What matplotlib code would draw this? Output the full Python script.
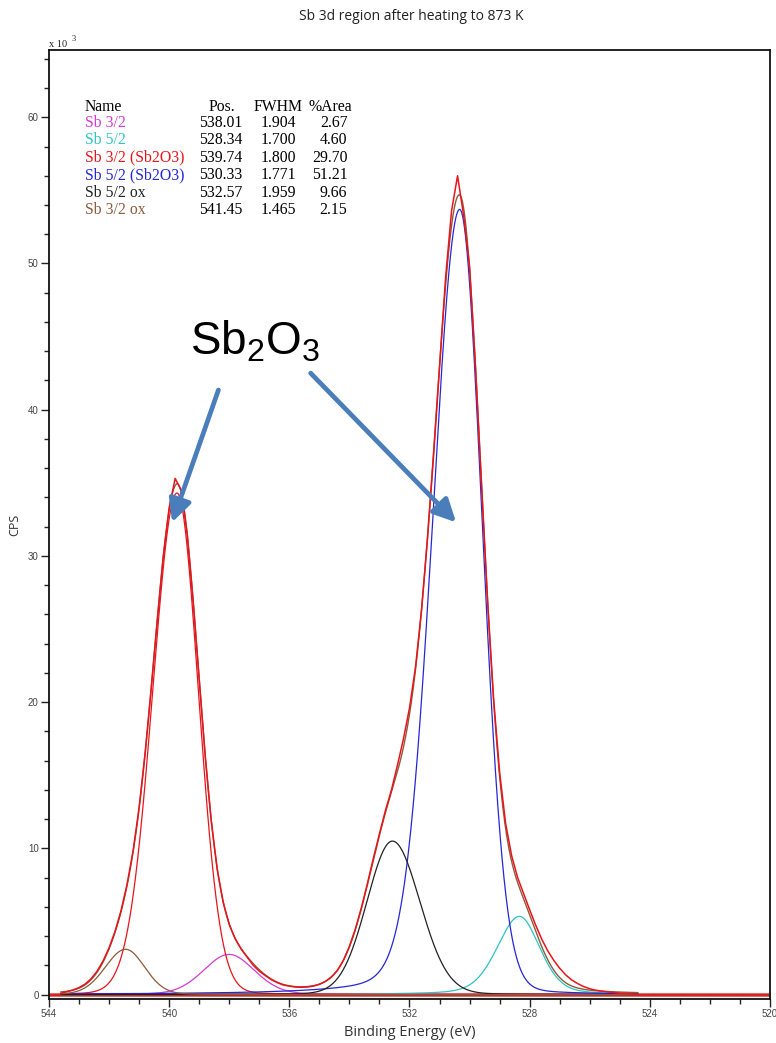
import numpy as np
import matplotlib.pyplot as plt
from matplotlib.ticker import MultipleLocator

plt.rcParams['mathtext.fontset'] = 'custom'
plt.rcParams['mathtext.rm'] = 'Liberation Sans'

W, H = 776, 1043

# fitted components (CasaXPS peak table)
names = ['Sb 3/2', 'Sb 5/2', 'Sb 3/2 (Sb2O3)', 'Sb 5/2 (Sb2O3)', 'Sb 5/2 ox', 'Sb 3/2 ox']
positions = [538.01, 528.34, 539.74, 530.33, 532.57, 541.45]
fwhm = [1.904, 1.700, 1.800, 1.771, 1.959, 1.465]
area_pct = [2.67, 4.60, 29.70, 51.21, 9.66, 2.15]
colors = ['#d23cd2', '#2cc4c4', '#e8141c', '#2626d6', '#222222', '#8c5a3c']

# peak heights (x 10^3 CPS) and asymmetric line shapes of the components
heights = [2.75, 5.35, 34.3, 53.7, 10.5, 3.1]
hw_high = [1.00, 0.88, 0.95, 1.06, 1.00, 0.80]   # half width, high-BE side
hw_low = [1.00, 0.80, 0.84, 0.88, 1.08, 0.75]    # half width, low-BE side
lor_high = [0.15, 0.30, 0.03, 0.14, 0.05, 0.10]  # Lorentzian fraction
lor_low = [0.15, 0.30, 0.03, 0.05, 0.05, 0.10]

# measured spectrum, 0.2 eV steps from 543.6 down to 524.4 eV (x 10^3 CPS)
be_data = np.round(np.arange(543.6, 524.3, -0.2), 1)
cps_data = [
    0.10, 0.20, 0.32, 0.48, 0.72, 1.08, 1.60, 2.30, 3.20, 4.33,
    5.76, 7.56, 9.84, 12.80, 16.52, 20.90, 25.55, 29.90, 33.30, 35.30,
    34.50, 31.50, 26.85, 21.50, 16.30, 11.90, 8.55, 6.30, 4.80, 3.80,
    3.10, 2.55, 2.00, 1.60, 1.30, 1.02, 0.82, 0.66, 0.58, 0.52,
    0.50, 0.52, 0.58, 0.70,
    0.90, 1.20, 1.65, 2.35, 3.30, 4.50, 5.95, 7.60, 9.35, 11.00,
    12.60, 14.00, 15.70, 17.50, 19.60, 22.40, 26.30, 31.20, 36.80, 42.90,
    49.00, 53.60, 56.00, 53.30, 49.80, 42.80, 34.80, 26.90, 20.20, 15.20,
    11.70, 9.50, 8.00, 6.90, 5.80, 4.75, 3.80, 3.00, 2.35, 1.80,
    1.35, 1.00, 0.75, 0.55, 0.40, 0.30, 0.24, 0.18, 0.14, 0.10,
    0.07, 0.05, 0.03,
]


def component(be, i):
    d = be - positions[i]
    hw = np.where(d > 0, hw_high[i], hw_low[i])
    m = np.where(d > 0, lor_high[i], lor_low[i])
    u = d / hw
    return heights[i] * ((1 - m) * np.exp(-np.log(2) * u ** 2) + m / (1 + u ** 2))


fig = plt.figure(figsize=(W / 100, H / 100), dpi=100)
ax = fig.add_axes([49 / W, 1 - 999 / H, (770 - 49) / W, (999 - 50) / H])

be_fit = np.linspace(be_data[0], be_data[-1], 1500)
envelope = np.zeros_like(be_fit)

# background
ax.plot([544, 520], [0, 0], color='#c87870', lw=3.0, zorder=1)
ax.plot([544, 520], [0, 0], color='#e01010', lw=1.2, zorder=1)

for i in range(len(names)):
    y = component(be_fit, i)
    envelope += y
    ax.plot(be_fit, y, color=colors[i], lw=0.9, zorder=2)

ax.plot(be_fit, envelope, color='#8c5a3c', lw=1.0, zorder=3)
ax.plot(be_data, cps_data, color='#e8141c', lw=1.1, zorder=4)

ax.set_xlim(544, 520)
ax.set_ylim(-0.3, 64.6)
ax.xaxis.set_major_locator(MultipleLocator(4))
ax.xaxis.set_minor_locator(MultipleLocator(1))
ax.yaxis.set_major_locator(MultipleLocator(10))
ax.yaxis.set_minor_locator(MultipleLocator(2))
ax.tick_params(which='both', direction='out', width=1.0, color='#222222',
               labelsize=7, labelcolor='#444444', pad=2)
ax.tick_params(which='major', length=5.5)
ax.tick_params(which='minor', length=3.5)
for s in ax.spines.values():
    s.set_linewidth(1.3)
    s.set_color('#111111')
for lab in ax.get_xticklabels() + ax.get_yticklabels():
    lab.set_family('Liberation Sans')

ax.set_xlabel('Binding Energy (eV)', fontsize=10.5, color='#333333', labelpad=4,
              family='Open Sans')
ax.set_ylabel('CPS', fontsize=9, color='#333333', labelpad=5, family='Open Sans')


def px(x, y):
    return x / W, 1 - y / H


fig.text(*px(411, 20), 'Sb 3d region after heating to 873 K', ha='center',
         va='baseline', fontsize=10, color='#222222', family='Open Sans')
fig.text(*px(49, 47), 'x 10', ha='left', va='baseline', fontsize=7.5,
         family='Liberation Serif', color='#222222')
fig.text(*px(71.5, 41), '3', ha='left', va='baseline', fontsize=6,
         family='Liberation Serif', color='#222222')

# peak table
tfont = dict(family='Liberation Serif', fontsize=11.3, va='baseline')
fig.text(*px(85, 110.7), 'Name', ha='left', **tfont)
fig.text(*px(222, 110.7), 'Pos.', ha='center', **tfont)
fig.text(*px(278.5, 110.7), 'FWHM', ha='center', **tfont)
fig.text(*px(352, 110.7), '%Area', ha='right', **tfont)
for i in range(len(names)):
    yb = 126.7 + i * 17.5
    fig.text(*px(85, yb), names[i], ha='left', color=colors[i], **tfont)
    fig.text(*px(242.7, yb), f'{positions[i]:.2f}', ha='right', **tfont)
    fig.text(*px(278.3, yb), f'{fwhm[i]:.3f}', ha='center', **tfont)
    fig.text(*px(347.5, yb), f'{area_pct[i]:.2f}', ha='right', **tfont)

# Sb2O3 callout
ax.text(539.31, 43.75, r'$\mathrm{Sb_2O_3}$', ha='left', va='baseline',
        fontsize=33, color='black', zorder=6)
arrow = dict(arrowstyle='-|>', color='#4a7ebb', lw=3.4, mutation_scale=34,
             shrinkA=0, shrinkB=0)
ax.annotate('', xy=(539.9, 32.3), xytext=(538.36, 41.35), arrowprops=arrow, zorder=6)
ax.annotate('', xy=(530.45, 32.3), xytext=(535.29, 42.5), arrowprops=arrow, zorder=6)

fig.savefig('out.png', dpi=100)
